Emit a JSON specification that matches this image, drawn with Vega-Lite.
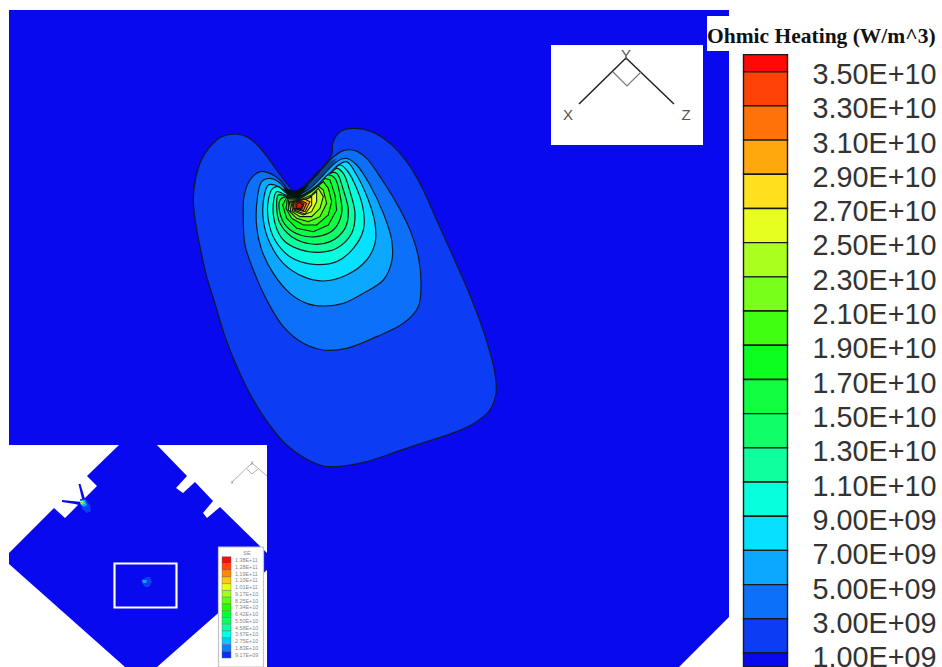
{
"$schema":"https://vega.github.io/schema/vega-lite/v6.json",
"width":942,"height":667,"padding":0,"autosize":{"type":"none"},"background":"#ffffff",
"config":{"view":{"stroke":null}},
"datasets":{
"contours":[
{"c":1e9,"x":345,"y":215},{"c":1e9,"x":320,"y":190},{"c":1e9,"x":290,"y":150},{"c":1e9,"x":265,"y":115},{"c":1e9,"x":235,"y":78},{"c":1e9,"x":200,"y":50},{"c":1e9,"x":165,"y":42},{"c":1e9,"x":125,"y":50},{"c":1e9,"x":90,"y":80},{"c":1e9,"x":62,"y":125},{"c":1e9,"x":47,"y":175},{"c":1e9,"x":40,"y":240},{"c":1e9,"x":47,"y":310},{"c":1e9,"x":60,"y":380},{"c":1e9,"x":80,"y":470},{"c":1e9,"x":105,"y":550},{"c":1e9,"x":135,"y":650},{"c":1e9,"x":175,"y":750},{"c":1e9,"x":220,"y":840},{"c":1e9,"x":265,"y":910},{"c":1e9,"x":320,"y":975},{"c":1e9,"x":375,"y":1015},{"c":1e9,"x":430,"y":1038},{"c":1e9,"x":490,"y":1038},{"c":1e9,"x":560,"y":1025},{"c":1e9,"x":650,"y":995},{"c":1e9,"x":740,"y":965},{"c":1e9,"x":830,"y":935},{"c":1e9,"x":890,"y":905},{"c":1e9,"x":930,"y":870},{"c":1e9,"x":948,"y":820},{"c":1e9,"x":945,"y":760},{"c":1e9,"x":925,"y":680},{"c":1e9,"x":895,"y":590},{"c":1e9,"x":855,"y":490},{"c":1e9,"x":815,"y":400},{"c":1e9,"x":770,"y":300},{"c":1e9,"x":725,"y":200},{"c":1e9,"x":680,"y":125},{"c":1e9,"x":630,"y":70},{"c":1e9,"x":575,"y":35},{"c":1e9,"x":520,"y":25},{"c":1e9,"x":480,"y":35},{"c":1e9,"x":458,"y":70},{"c":1e9,"x":455,"y":105},{"c":1e9,"x":420,"y":150},{"c":1e9,"x":380,"y":190},
{"c":3e9,"x":330,"y":215},{"c":3e9,"x":300,"y":180},{"c":3e9,"x":270,"y":160},{"c":3e9,"x":240,"y":155},{"c":3e9,"x":210,"y":180},{"c":3e9,"x":192,"y":230},{"c":3e9,"x":190,"y":300},{"c":3e9,"x":195,"y":375},{"c":3e9,"x":220,"y":450},{"c":3e9,"x":260,"y":540},{"c":3e9,"x":310,"y":620},{"c":3e9,"x":370,"y":670},{"c":3e9,"x":430,"y":690},{"c":3e9,"x":500,"y":685},{"c":3e9,"x":590,"y":650},{"c":3e9,"x":670,"y":610},{"c":3e9,"x":715,"y":560},{"c":3e9,"x":723,"y":490},{"c":3e9,"x":715,"y":410},{"c":3e9,"x":690,"y":330},{"c":3e9,"x":650,"y":250},{"c":3e9,"x":600,"y":170},{"c":3e9,"x":560,"y":115},{"c":3e9,"x":525,"y":92},{"c":3e9,"x":490,"y":92},{"c":3e9,"x":450,"y":120},{"c":3e9,"x":410,"y":165},{"c":3e9,"x":375,"y":200},{"c":3e9,"x":345,"y":220},
{"c":5e9,"x":325,"y":215},{"c":5e9,"x":295,"y":185},{"c":5e9,"x":270,"y":175},{"c":5e9,"x":245,"y":185},{"c":5e9,"x":232,"y":235},{"c":5e9,"x":230,"y":320},{"c":5e9,"x":245,"y":390},{"c":5e9,"x":280,"y":460},{"c":5e9,"x":330,"y":520},{"c":5e9,"x":380,"y":550},{"c":5e9,"x":430,"y":558},{"c":5e9,"x":490,"y":550},{"c":5e9,"x":550,"y":520},{"c":5e9,"x":610,"y":480},{"c":5e9,"x":635,"y":425},{"c":5e9,"x":635,"y":360},{"c":5e9,"x":610,"y":280},{"c":5e9,"x":570,"y":195},{"c":5e9,"x":530,"y":135},{"c":5e9,"x":500,"y":115},{"c":5e9,"x":470,"y":125},{"c":5e9,"x":430,"y":165},{"c":5e9,"x":390,"y":205},{"c":5e9,"x":350,"y":225},
{"c":7e9,"x":320,"y":215},{"c":7e9,"x":285,"y":195},{"c":7e9,"x":265,"y":195},{"c":7e9,"x":252,"y":230},{"c":7e9,"x":250,"y":300},{"c":7e9,"x":270,"y":370},{"c":7e9,"x":310,"y":430},{"c":7e9,"x":370,"y":470},{"c":7e9,"x":430,"y":483},{"c":7e9,"x":500,"y":465},{"c":7e9,"x":560,"y":420},{"c":7e9,"x":585,"y":370},{"c":7e9,"x":585,"y":310},{"c":7e9,"x":565,"y":240},{"c":7e9,"x":530,"y":165},{"c":7e9,"x":500,"y":125},{"c":7e9,"x":475,"y":135},{"c":7e9,"x":440,"y":170},{"c":7e9,"x":400,"y":205},{"c":7e9,"x":355,"y":228},
{"c":9e9,"x":320,"y":220},{"c":9e9,"x":295,"y":200},{"c":9e9,"x":278,"y":205},{"c":9e9,"x":265,"y":240},{"c":9e9,"x":265,"y":300},{"c":9e9,"x":285,"y":360},{"c":9e9,"x":330,"y":410},{"c":9e9,"x":400,"y":433},{"c":9e9,"x":470,"y":425},{"c":9e9,"x":520,"y":385},{"c":9e9,"x":550,"y":330},{"c":9e9,"x":550,"y":270},{"c":9e9,"x":530,"y":205},{"c":9e9,"x":500,"y":150},{"c":9e9,"x":480,"y":135},{"c":9e9,"x":450,"y":165},{"c":9e9,"x":400,"y":210},{"c":9e9,"x":355,"y":230},
{"c":1.1e10,"x":318,"y":225},{"c":1.1e10,"x":290,"y":215},{"c":1.1e10,"x":280,"y":250},{"c":1.1e10,"x":285,"y":310},{"c":1.1e10,"x":310,"y":360},{"c":1.1e10,"x":350,"y":385},{"c":1.1e10,"x":415,"y":397},{"c":1.1e10,"x":470,"y":385},{"c":1.1e10,"x":515,"y":340},{"c":1.1e10,"x":525,"y":280},{"c":1.1e10,"x":510,"y":215},{"c":1.1e10,"x":490,"y":160},{"c":1.1e10,"x":470,"y":145},{"c":1.1e10,"x":440,"y":175},{"c":1.1e10,"x":400,"y":212},{"c":1.1e10,"x":355,"y":232},
{"c":1.3e10,"x":318,"y":228},{"c":1.3e10,"x":295,"y":225},{"c":1.3e10,"x":290,"y":260},{"c":1.3e10,"x":300,"y":310},{"c":1.3e10,"x":335,"y":350},{"c":1.3e10,"x":395,"y":372},{"c":1.3e10,"x":450,"y":365},{"c":1.3e10,"x":495,"y":325},{"c":1.3e10,"x":505,"y":270},{"c":1.3e10,"x":490,"y":210},{"c":1.3e10,"x":470,"y":160},{"c":1.3e10,"x":450,"y":160},{"c":1.3e10,"x":415,"y":195},{"c":1.3e10,"x":395,"y":215},{"c":1.3e10,"x":355,"y":232},
{"c":1.5e10,"x":318,"y":230},{"c":1.5e10,"x":300,"y":240},{"c":1.5e10,"x":300,"y":280},{"c":1.5e10,"x":320,"y":320},{"c":1.5e10,"x":360,"y":345},{"c":1.5e10,"x":410,"y":350},{"c":1.5e10,"x":460,"y":330},{"c":1.5e10,"x":485,"y":280},{"c":1.5e10,"x":480,"y":225},{"c":1.5e10,"x":465,"y":175},{"c":1.5e10,"x":445,"y":165},{"c":1.5e10,"x":410,"y":200},{"c":1.5e10,"x":355,"y":235},
{"c":1.7e10,"x":320,"y":232},{"c":1.7e10,"x":308,"y":255},{"c":1.7e10,"x":320,"y":295},{"c":1.7e10,"x":350,"y":325},{"c":1.7e10,"x":400,"y":335},{"c":1.7e10,"x":445,"y":315},{"c":1.7e10,"x":470,"y":270},{"c":1.7e10,"x":465,"y":225},{"c":1.7e10,"x":450,"y":180},{"c":1.7e10,"x":435,"y":175},{"c":1.7e10,"x":405,"y":205},{"c":1.7e10,"x":355,"y":235},
{"c":1.9e10,"x":322,"y":235},{"c":1.9e10,"x":318,"y":265},{"c":1.9e10,"x":335,"y":295},{"c":1.9e10,"x":370,"y":315},{"c":1.9e10,"x":410,"y":315},{"c":1.9e10,"x":445,"y":285},{"c":1.9e10,"x":455,"y":245},{"c":1.9e10,"x":445,"y":205},{"c":1.9e10,"x":430,"y":185},{"c":1.9e10,"x":400,"y":210},{"c":1.9e10,"x":355,"y":238},
{"c":2.1e10,"x":325,"y":240},{"c":2.1e10,"x":325,"y":270},{"c":2.1e10,"x":350,"y":295},{"c":2.1e10,"x":385,"y":305},{"c":2.1e10,"x":420,"y":290},{"c":2.1e10,"x":440,"y":250},{"c":2.1e10,"x":430,"y":210},{"c":2.1e10,"x":415,"y":198},{"c":2.1e10,"x":395,"y":215},{"c":2.1e10,"x":355,"y":240},
{"c":2.3e10,"x":328,"y":245},{"c":2.3e10,"x":332,"y":272},{"c":2.3e10,"x":360,"y":290},{"c":2.3e10,"x":395,"y":290},{"c":2.3e10,"x":420,"y":265},{"c":2.3e10,"x":430,"y":230},{"c":2.3e10,"x":415,"y":205},{"c":2.3e10,"x":395,"y":225},{"c":2.3e10,"x":355,"y":242},
{"c":2.5e10,"x":332,"y":245},{"c":2.5e10,"x":338,"y":272},{"c":2.5e10,"x":370,"y":285},{"c":2.5e10,"x":395,"y":275},{"c":2.5e10,"x":410,"y":245},{"c":2.5e10,"x":410,"y":215},{"c":2.5e10,"x":385,"y":235},{"c":2.5e10,"x":355,"y":243},
{"c":2.7e10,"x":335,"y":245},{"c":2.7e10,"x":342,"y":270},{"c":2.7e10,"x":375,"y":282},{"c":2.7e10,"x":395,"y":255},{"c":2.7e10,"x":395,"y":230},{"c":2.7e10,"x":375,"y":240},
{"c":2.9e10,"x":338,"y":245},{"c":2.9e10,"x":345,"y":268},{"c":2.9e10,"x":375,"y":275},{"c":2.9e10,"x":390,"y":245},{"c":2.9e10,"x":375,"y":238},
{"c":3.1e10,"x":340,"y":248},{"c":3.1e10,"x":340,"y":265},{"c":3.1e10,"x":370,"y":272},{"c":3.1e10,"x":380,"y":250},{"c":3.1e10,"x":360,"y":240},
{"c":3.3e10,"x":345,"y":250},{"c":3.3e10,"x":345,"y":265},{"c":3.3e10,"x":365,"y":268},{"c":3.3e10,"x":372,"y":252},{"c":3.3e10,"x":358,"y":243},
{"c":3.5e10,"x":350,"y":252},{"c":3.5e10,"x":350,"y":265},{"c":3.5e10,"x":362,"y":265},{"c":3.5e10,"x":368,"y":255},{"c":3.5e10,"x":358,"y":247}
],
"colorbar":[
{"lo":3.5e10,"hi":3.6e10},{"lo":3.3e10,"hi":3.5e10},{"lo":3.1e10,"hi":3.3e10},{"lo":2.9e10,"hi":3.1e10},{"lo":2.7e10,"hi":2.9e10},{"lo":2.5e10,"hi":2.7e10},{"lo":2.3e10,"hi":2.5e10},{"lo":2.1e10,"hi":2.3e10},{"lo":1.9e10,"hi":2.1e10},{"lo":1.7e10,"hi":1.9e10},{"lo":1.5e10,"hi":1.7e10},{"lo":1.3e10,"hi":1.5e10},{"lo":1.1e10,"hi":1.3e10},{"lo":9e9,"hi":1.1e10},{"lo":7e9,"hi":9e9},{"lo":5e9,"hi":7e9},{"lo":3e9,"hi":5e9},{"lo":1e9,"hi":3e9},{"lo":1.8e8,"hi":1e9}
],
"colorlabels":[
{"v":3.5e10,"t":"3.50E+10"},{"v":3.3e10,"t":"3.30E+10"},{"v":3.1e10,"t":"3.10E+10"},{"v":2.9e10,"t":"2.90E+10"},{"v":2.7e10,"t":"2.70E+10"},{"v":2.5e10,"t":"2.50E+10"},{"v":2.3e10,"t":"2.30E+10"},{"v":2.1e10,"t":"2.10E+10"},{"v":1.9e10,"t":"1.90E+10"},{"v":1.7e10,"t":"1.70E+10"},{"v":1.5e10,"t":"1.50E+10"},{"v":1.3e10,"t":"1.30E+10"},{"v":1.1e10,"t":"1.10E+10"},{"v":9e9,"t":"9.00E+09"},{"v":7e9,"t":"7.00E+09"},{"v":5e9,"t":"5.00E+09"},{"v":3e9,"t":"3.00E+09"},{"v":1e9,"t":"1.00E+09"}
],
"mini":[
{"t":"1.38E+11"},{"t":"1.28E+11"},{"t":"1.19E+11"},{"t":"1.10E+11"},{"t":"1.01E+11"},{"t":"9.17E+10"},{"t":"8.25E+10"},{"t":"7.34E+10"},{"t":"6.42E+10"},{"t":"5.50E+10"},{"t":"4.58E+10"},{"t":"3.67E+10"},{"t":"2.75E+10"},{"t":"1.83E+10"},{"t":"9.17E+09"}
]
},
"resolve":{"scale":{"x":"independent","y":"independent","fill":"independent","color":"independent"}},
"layer":[
{
 "data":{"values":[
 {"x":9,"y":10},{"x":729,"y":10},{"x":729,"y":617},{"x":679,"y":667},{"x":9,"y":667}
 ]},
 "transform":[{"window":[{"op":"row_number","as":"i"}]}],
 "mark":{"type":"line","interpolate":"linear-closed","fill":"#0909ef","stroke":null},
 "encoding":{
  "x":{"field":"x","type":"quantitative","scale":{"domain":[0,942],"nice":false,"zero":false},"axis":null},
  "y":{"field":"y","type":"quantitative","scale":{"domain":[667,0],"nice":false,"zero":false},"axis":null},
  "order":{"field":"i"}
 }
},
{
 "data":{"values":[
 {"x0":551,"x1":703,"y0":45,"y1":145},{"x0":9,"x1":267,"y0":445,"y1":667},{"x0":707,"x1":729,"y0":16,"y1":51}
 ]},
 "mark":{"type":"rect","fill":"#ffffff"},
 "encoding":{
  "x":{"field":"x0","type":"quantitative","scale":{"domain":[0,942],"nice":false,"zero":false},"axis":null},
  "x2":{"field":"x1"},
  "y":{"field":"y0","type":"quantitative","scale":{"domain":[667,0],"nice":false,"zero":false},"axis":null},
  "y2":{"field":"y1"}
 }
},
{
 "data":{"name":"contours"},
 "transform":[{"window":[{"op":"row_number","as":"i"}]},{"filter":"datum.c<=1.5e10"}],
 "mark":{"type":"line","interpolate":"catmull-rom-closed","stroke":"#101828","strokeWidth":1.2},
 "encoding":{
  "x":{"field":"x","type":"quantitative","scale":{"domain":[-540,2286],"nice":false,"zero":false},"axis":null},
  "y":{"field":"y","type":"quantitative","scale":{"domain":[1641,-360],"nice":false,"zero":false},"axis":null},
  "detail":{"field":"c"},
  "order":{"field":"i"},
  "fill":{"field":"c","type":"quantitative","legend":null,"scale":{"type":"threshold","domain":[1e9,3e9,5e9,7e9,9e9,1.1e10,1.3e10,1.5e10,1.7e10,1.9e10,2.1e10,2.3e10,2.5e10,2.7e10,2.9e10,3.1e10,3.3e10,3.5e10],"range":["#0909ef","#0c3cf4","#0c70f8","#0ca8ff","#08e0ff","#08ffdc","#10ff9e","#10ff68","#10ff40","#0aff20","#40ff10","#78ff1a","#aaff1e","#e6ff1e","#ffe01e","#ffa80e","#ff7208","#ff4208","#ff0808"]}}
 }
},
{
 "data":{"name":"contours"},
 "transform":[{"window":[{"op":"row_number","as":"i"}]},{"filter":"datum.c>1.5e10"}],
 "mark":{"type":"line","interpolate":"linear-closed","stroke":"#101818","strokeWidth":1.1},
 "encoding":{
  "x":{"field":"x","type":"quantitative","scale":{"domain":[-540,2286],"nice":false,"zero":false},"axis":null},
  "y":{"field":"y","type":"quantitative","scale":{"domain":[1641,-360],"nice":false,"zero":false},"axis":null},
  "detail":{"field":"c"},
  "order":{"field":"i"},
  "fill":{"field":"c","type":"quantitative","legend":null,"scale":{"type":"threshold","domain":[1e9,3e9,5e9,7e9,9e9,1.1e10,1.3e10,1.5e10,1.7e10,1.9e10,2.1e10,2.3e10,2.5e10,2.7e10,2.9e10,3.1e10,3.3e10,3.5e10],"range":["#0909ef","#0c3cf4","#0c70f8","#0ca8ff","#08e0ff","#08ffdc","#10ff9e","#10ff68","#10ff40","#0aff20","#40ff10","#78ff1a","#aaff1e","#e6ff1e","#ffe01e","#ffa80e","#ff7208","#ff4208","#ff0808"]}}
 }
},
{
 "data":{"values":[
 {"x":360,"y":215},{"x":400,"y":165},{"x":445,"y":125},{"x":472,"y":115},{"x":440,"y":152},{"x":405,"y":190},{"x":375,"y":215}
 ]},
 "transform":[{"window":[{"op":"row_number","as":"i"}]}],
 "mark":{"type":"line","interpolate":"linear-closed","fill":"#05140f","fillOpacity":0.45,"stroke":null},
 "encoding":{
  "x":{"field":"x","type":"quantitative","scale":{"domain":[-540,2286],"nice":false,"zero":false},"axis":null},
  "y":{"field":"y","type":"quantitative","scale":{"domain":[1641,-360],"nice":false,"zero":false},"axis":null},
  "order":{"field":"i"}
 }
},
{
 "data":{"values":[
 {"x":312,"y":205},{"x":345,"y":213},{"x":385,"y":195},{"x":355,"y":235},{"x":322,"y":226}
 ]},
 "transform":[{"window":[{"op":"row_number","as":"i"}]}],
 "mark":{"type":"line","interpolate":"linear-closed","fill":"#05140f","stroke":"#05140f","strokeWidth":0.5},
 "encoding":{
  "x":{"field":"x","type":"quantitative","scale":{"domain":[-540,2286],"nice":false,"zero":false},"axis":null},
  "y":{"field":"y","type":"quantitative","scale":{"domain":[1641,-360],"nice":false,"zero":false},"axis":null},
  "order":{"field":"i"}
 }
},
{
 "data":{"values":[
 {"s":1,"x":119,"y":445},{"s":1,"x":157,"y":445},{"s":1,"x":187,"y":476},{"s":1,"x":176,"y":488},{"s":1,"x":183,"y":493},{"s":1,"x":195,"y":482},{"s":1,"x":213,"y":501},{"s":1,"x":203,"y":513},{"s":1,"x":207,"y":518},{"s":1,"x":220,"y":507},{"s":1,"x":267,"y":553},{"s":1,"x":267,"y":570},{"s":1,"x":157,"y":667},{"s":1,"x":125,"y":667},{"s":1,"x":9,"y":564},{"s":1,"x":9,"y":553},{"s":1,"x":54,"y":508},{"s":1,"x":65,"y":518},{"s":1,"x":97,"y":486},{"s":1,"x":87,"y":476},
 {"s":2,"x":82,"y":502},{"s":2,"x":62,"y":500},{"s":2,"x":62,"y":502},{"s":2,"x":75,"y":504},{"s":2,"x":82,"y":506},
 {"s":3,"x":85,"y":499},{"s":3,"x":80.5,"y":484},{"s":3,"x":78.5,"y":484},{"s":3,"x":82,"y":499}
 ]},
 "transform":[{"window":[{"op":"row_number","as":"i"}]}],
 "mark":{"type":"line","interpolate":"linear-closed","fill":"#0909ef","stroke":null},
 "encoding":{
  "x":{"field":"x","type":"quantitative","scale":{"domain":[0,942],"nice":false,"zero":false},"axis":null},
  "y":{"field":"y","type":"quantitative","scale":{"domain":[667,0],"nice":false,"zero":false},"axis":null},
  "detail":{"field":"s"},
  "order":{"field":"i"}
 }
},
{
 "data":{"values":[
 {"b":1,"c":1e9,"x":80,"y":499},{"b":1,"c":1e9,"x":85,"y":499},{"b":1,"c":1e9,"x":90,"y":505},{"b":1,"c":1e9,"x":91,"y":511},{"b":1,"c":1e9,"x":87,"y":513},{"b":1,"c":1e9,"x":82,"y":509},
 {"b":2,"c":5e9,"x":80,"y":500},{"b":2,"c":5e9,"x":85,"y":500},{"b":2,"c":5e9,"x":87,"y":505},{"b":2,"c":5e9,"x":84,"y":507},{"b":2,"c":5e9,"x":81,"y":505},
 {"b":3,"c":1.1e10,"x":80,"y":501},{"b":3,"c":1.1e10,"x":84,"y":501},{"b":3,"c":1.1e10,"x":85,"y":504},{"b":3,"c":1.1e10,"x":81,"y":505},
 {"b":4,"c":2.5e10,"x":80,"y":501},{"b":4,"c":2.5e10,"x":83,"y":501},{"b":4,"c":2.5e10,"x":83,"y":503},{"b":4,"c":2.5e10,"x":81,"y":504},
 {"b":5,"c":3.1e10,"x":81,"y":502},{"b":5,"c":3.1e10,"x":82,"y":502},{"b":5,"c":3.1e10,"x":82,"y":503},{"b":5,"c":3.1e10,"x":81,"y":503},
 {"b":6,"c":1e9,"x":146,"y":577},{"b":6,"c":1e9,"x":150,"y":577},{"b":6,"c":1e9,"x":152,"y":582},{"b":6,"c":1e9,"x":149,"y":587},{"b":6,"c":1e9,"x":145,"y":587},{"b":6,"c":1e9,"x":142,"y":583},{"b":6,"c":1e9,"x":142,"y":580},
 {"b":7,"c":5e9,"x":142,"y":580},{"b":7,"c":5e9,"x":147,"y":580},{"b":7,"c":5e9,"x":146,"y":583},{"b":7,"c":5e9,"x":143,"y":583}
 ]},
 "transform":[{"window":[{"op":"row_number","as":"i"}]}],
 "mark":{"type":"line","interpolate":"linear-closed","stroke":null},
 "encoding":{
  "x":{"field":"x","type":"quantitative","scale":{"domain":[0,942],"nice":false,"zero":false},"axis":null},
  "y":{"field":"y","type":"quantitative","scale":{"domain":[667,0],"nice":false,"zero":false},"axis":null},
  "detail":{"field":"b"},
  "order":{"field":"i"},
  "fill":{"field":"c","type":"quantitative","legend":null,"scale":{"type":"threshold","domain":[1e9,3e9,5e9,7e9,9e9,1.1e10,1.3e10,1.5e10,1.7e10,1.9e10,2.1e10,2.3e10,2.5e10,2.7e10,2.9e10,3.1e10,3.3e10,3.5e10],"range":["#0909ef","#0c3cf4","#0c70f8","#0ca8ff","#08e0ff","#08ffdc","#10ff9e","#10ff68","#10ff40","#0aff20","#40ff10","#78ff1a","#aaff1e","#e6ff1e","#ffe01e","#ffa80e","#ff7208","#ff4208","#ff0808"]}}
 }
},
{
 "data":{"values":[{"x0":114.5,"x1":176.5,"y0":563.5,"y1":607.5}]},
 "mark":{"type":"rect","fill":null,"stroke":"#ffffff","strokeWidth":2.2},
 "encoding":{
  "x":{"field":"x0","type":"quantitative","scale":{"domain":[0,942],"nice":false,"zero":false},"axis":null},
  "x2":{"field":"x1"},
  "y":{"field":"y0","type":"quantitative","scale":{"domain":[667,0],"nice":false,"zero":false},"axis":null},
  "y2":{"field":"y1"}
 }
},
{
 "data":{"values":[
 {"p":"a","x":579,"y":104},{"p":"a","x":626,"y":58},{"p":"a","x":674,"y":104},
 {"p":"b","x":613,"y":72},{"p":"b","x":627,"y":86},{"p":"b","x":641,"y":72}
 ]},
 "transform":[{"window":[{"op":"row_number","as":"i"}]}],
 "mark":{"type":"line","interpolate":"linear"},
 "encoding":{
  "x":{"field":"x","type":"quantitative","scale":{"domain":[0,942],"nice":false,"zero":false},"axis":null},
  "y":{"field":"y","type":"quantitative","scale":{"domain":[667,0],"nice":false,"zero":false},"axis":null},
  "detail":{"field":"p"},
  "order":{"field":"i"},
  "stroke":{"field":"p","type":"nominal","legend":null,"scale":{"domain":["a","b"],"range":["#222222","#777777"]}},
  "strokeWidth":{"field":"p","type":"nominal","legend":null,"scale":{"domain":["a","b"],"range":[1.5,1.2]}}
 }
},
{
 "data":{"values":[
 {"p":"a","x":232,"y":482},{"p":"a","x":252,"y":463},{"p":"a","x":267,"y":476},
 {"p":"b","x":247,"y":469},{"p":"b","x":252,"y":474},{"p":"b","x":258,"y":469}
 ]},
 "transform":[{"window":[{"op":"row_number","as":"i"}]}],
 "mark":{"type":"line","interpolate":"linear","stroke":"#999999","strokeWidth":0.8},
 "encoding":{
  "x":{"field":"x","type":"quantitative","scale":{"domain":[0,942],"nice":false,"zero":false},"axis":null},
  "y":{"field":"y","type":"quantitative","scale":{"domain":[667,0],"nice":false,"zero":false},"axis":null},
  "detail":{"field":"p"},
  "order":{"field":"i"}
 }
},
{
 "data":{"values":[{"x":568,"y":115,"t":"X"},{"x":686,"y":115,"t":"Z"},{"x":626,"y":55,"t":"Y"}]},
 "mark":{"type":"text","font":"Liberation Sans","fontSize":15,"fill":"#555555"},
 "encoding":{
  "x":{"field":"x","type":"quantitative","scale":{"domain":[0,942],"nice":false,"zero":false},"axis":null},
  "y":{"field":"y","type":"quantitative","scale":{"domain":[667,0],"nice":false,"zero":false},"axis":null},
  "text":{"field":"t"}
 }
},
{
 "data":{"values":[{"x":232,"y":482,"t":"x"},{"x":252,"y":462,"t":"y"}]},
 "mark":{"type":"text","font":"Liberation Sans","fontSize":5,"fill":"#777777"},
 "encoding":{
  "x":{"field":"x","type":"quantitative","scale":{"domain":[0,942],"nice":false,"zero":false},"axis":null},
  "y":{"field":"y","type":"quantitative","scale":{"domain":[667,0],"nice":false,"zero":false},"axis":null},
  "text":{"field":"t"}
 }
},
{
 "data":{"values":[{"x0":218.5,"x1":263.5,"y0":547,"y1":667}]},
 "mark":{"type":"rect","fill":"#ffffff","stroke":"#c4c4c4","strokeWidth":1.2},
 "encoding":{
  "x":{"field":"x0","type":"quantitative","scale":{"domain":[0,942],"nice":false,"zero":false},"axis":null},
  "x2":{"field":"x1"},
  "y":{"field":"y0","type":"quantitative","scale":{"domain":[667,0],"nice":false,"zero":false},"axis":null},
  "y2":{"field":"y1"}
 }
},
{
 "data":{"values":[{"x":247,"y":553,"t":"SE"}]},
 "mark":{"type":"text","font":"Liberation Sans","fontSize":5.5,"fill":"#888888"},
 "encoding":{
  "x":{"field":"x","type":"quantitative","scale":{"domain":[0,942],"nice":false,"zero":false},"axis":null},
  "y":{"field":"y","type":"quantitative","scale":{"domain":[667,0],"nice":false,"zero":false},"axis":null},
  "text":{"field":"t"}
 }
},
{
 "data":{"name":"mini"},
 "mark":{"type":"rect","stroke":"#666666","strokeWidth":0.4},
 "encoding":{
  "x":{"datum":222,"type":"quantitative","scale":{"domain":[0,942],"nice":false,"zero":false},"axis":null},
  "x2":{"datum":231},
  "y":{"field":"t","type":"nominal","sort":null,"axis":null,"scale":{"domain":["1.38E+11","1.28E+11","1.19E+11","1.10E+11","1.01E+11","9.17E+10","8.25E+10","7.34E+10","6.42E+10","5.50E+10","4.58E+10","3.67E+10","2.75E+10","1.83E+10","9.17E+09"],"range":[556.7,658],"paddingInner":0,"paddingOuter":0}},
  "fill":{"field":"t","type":"nominal","legend":null,"scale":{"domain":["1.38E+11","1.28E+11","1.19E+11","1.10E+11","1.01E+11","9.17E+10","8.25E+10","7.34E+10","6.42E+10","5.50E+10","4.58E+10","3.67E+10","2.75E+10","1.83E+10","9.17E+09"],"range":["#f01010","#ff4a10","#ff8a08","#ffc810","#e8ff20","#a0ff20","#60ff10","#20ff10","#0aff30","#10ff60","#10ffa0","#08ffe8","#08c8ff","#0c80f8","#0c30f0"]}}
 }
},
{
 "data":{"name":"mini"},
 "mark":{"type":"text","font":"Liberation Sans","fontSize":5.4,"fill":"#888888","align":"left"},
 "encoding":{
  "x":{"datum":235,"type":"quantitative","scale":{"domain":[0,942],"nice":false,"zero":false},"axis":null},
  "y":{"field":"t","type":"nominal","sort":null,"axis":null,"scale":{"domain":["1.38E+11","1.28E+11","1.19E+11","1.10E+11","1.01E+11","9.17E+10","8.25E+10","7.34E+10","6.42E+10","5.50E+10","4.58E+10","3.67E+10","2.75E+10","1.83E+10","9.17E+09"],"range":[556.7,658],"paddingInner":0,"paddingOuter":0}},
  "text":{"field":"t"}
 }
},
{
 "data":{"values":[{"t":"Ohmic Heating (W/m^3)"}]},
 "mark":{"type":"text","font":"Liberation Serif","fontWeight":"bold","fontSize":21.5,"fill":"#111111","align":"left","baseline":"alphabetic"},
 "encoding":{
  "x":{"datum":707,"type":"quantitative","scale":{"domain":[0,942],"nice":false,"zero":false},"axis":null},
  "y":{"datum":43,"type":"quantitative","scale":{"domain":[667,0],"nice":false,"zero":false},"axis":null},
  "text":{"field":"t"}
 }
},
{
 "data":{"name":"colorbar"},
 "mark":{"type":"rect","stroke":"#1a1a1a","strokeWidth":1.4},
 "encoding":{
  "x":{"datum":743.5,"type":"quantitative","scale":{"domain":[0,942],"nice":false,"zero":false},"axis":null},
  "x2":{"datum":787.5},
  "y":{"field":"lo","type":"quantitative","axis":null,"scale":{"domain":[1e9,3.5e10],"range":[653,71.7],"nice":false,"zero":false}},
  "y2":{"field":"hi"},
  "fill":{"field":"lo","type":"quantitative","legend":null,"scale":{"type":"threshold","domain":[1e9,3e9,5e9,7e9,9e9,1.1e10,1.3e10,1.5e10,1.7e10,1.9e10,2.1e10,2.3e10,2.5e10,2.7e10,2.9e10,3.1e10,3.3e10,3.5e10],"range":["#0909ef","#0c3cf4","#0c70f8","#0ca8ff","#08e0ff","#08ffdc","#10ff9e","#10ff68","#10ff40","#0aff20","#40ff10","#78ff1a","#aaff1e","#e6ff1e","#ffe01e","#ffa80e","#ff7208","#ff4208","#ff0808"]}}
 }
},
{
 "data":{"name":"colorlabels"},
 "mark":{"type":"text","font":"Liberation Sans","fontSize":28.8,"fill":"#333333","align":"left","baseline":"middle"},
 "encoding":{
  "x":{"datum":812.5,"type":"quantitative","scale":{"domain":[0,942],"nice":false,"zero":false},"axis":null},
  "y":{"field":"v","type":"quantitative","axis":null,"scale":{"domain":[1e9,3.5e10],"range":[658.3,74.9],"nice":false,"zero":false}},
  "text":{"field":"t"}
 }
}
]
}
